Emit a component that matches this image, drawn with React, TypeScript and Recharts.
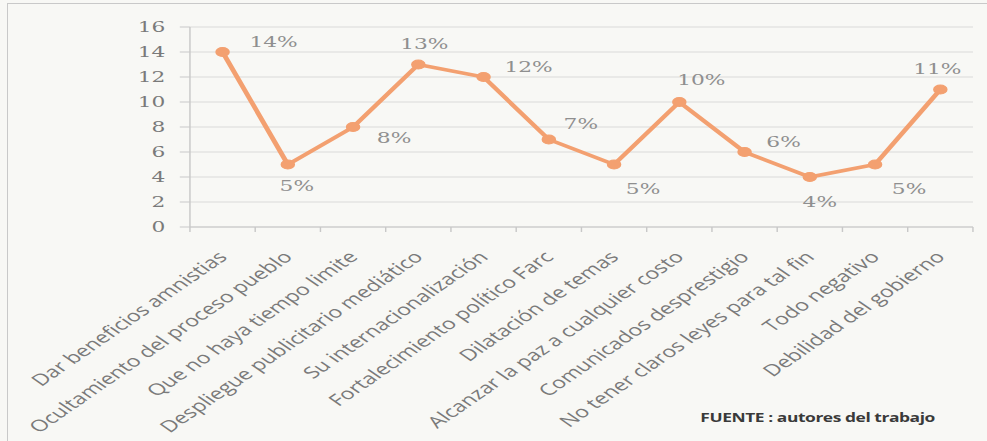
import React from 'react';
import { LineChart, Line, XAxis, YAxis, CartesianGrid, LabelList } from 'recharts';

// categories and values
const categories = [
  'Dar beneficios amnistias',
  'Ocultamiento del proceso pueblo',
  'Que no haya tiempo limite',
  'Despliegue publicitario mediático',
  'Su internacionalización',
  'Fortalecimiento político Farc',
  'Dilatación de temas',
  'Alcanzar la paz a cualquier costo',
  'Comunicados desprestigio',
  'No tener claros leyes para tal fin',
  'Todo negativo',
  'Debilidad del gobierno',
];
const values = [14, 5, 8, 13, 12, 7, 5, 10, 6, 4, 5, 11];
const yTicks = [0, 2, 4, 6, 8, 10, 12, 14, 16];

// where each percentage label sits relative to its point (page px)
const labelOffsets = [
  [51, -10], [9, 21], [41, 11], [6, -21], [45, -10], [32, -16],
  [29, 24], [22, -22], [39, -10], [10, 25], [34, 24], [-3, -21],
];

const data = categories.map((name, i) => ({ name, value: values[i] }));

// the scan is stretched sideways, so the chart is drawn narrow and scaled
const STRETCH = 1.45;
const CHART_W = 681;
const AXIS_W = 131;
const RIGHT = 10;
const HALF_BAND = (CHART_W - AXIS_W - RIGHT) / categories.length / 2;

const CategoryTick = (props: any) => {
  const { x, y, payload, index } = props;
  return (
    <g>
      <line x1={x - HALF_BAND} y1={y} x2={x - HALF_BAND} y2={y + 5} stroke="#c8c8c8" />
      {index === categories.length - 1 && (
        <line x1={x + HALF_BAND} y1={y} x2={x + HALF_BAND} y2={y + 5} stroke="#c8c8c8" />
      )}
      <text
        transform={`translate(${x + 4},${y + 31}) rotate(-45)`}
        textAnchor="end"
        fontSize={16}
        fontFamily="'Open Sans', sans-serif"
        fill="#7a7a7a"
      >
        {payload.value}
      </text>
    </g>
  );
};

const PercentLabel = (props: any) => {
  const { x, y, value, index } = props;
  const [dx, dy] = labelOffsets[index] || [0, -12];
  return (
    <text
      x={x + dx / STRETCH}
      y={y + dy}
      textAnchor="middle"
      dominantBaseline="central"
      fontSize={15}
      fontFamily="'DejaVu Serif', serif"
      fill="#8f8f8f"
    >
      {value}%
    </text>
  );
};

export default function App() {
  return (
    <div
      style={{
        position: 'absolute',
        left: 0,
        top: 0,
        width: 987,
        height: 441,
        overflow: 'hidden',
        background: '#f8f8f5',
      }}
    >
      {/* frame of the figure */}
      <div
        style={{
          position: 'absolute',
          left: 7,
          top: 3,
          width: 1000,
          height: 460,
          border: '1px solid #c9c9c9',
        }}
      />
      <div
        style={{
          position: 'absolute',
          left: 0,
          top: 0,
          width: CHART_W,
          height: 441,
          transform: `scaleX(${STRETCH})`,
          transformOrigin: '0 0',
        }}
      >
        <LineChart
          width={CHART_W}
          height={441}
          data={data}
          margin={{ top: 27, right: RIGHT, bottom: 0, left: 0 }}
        >
          <CartesianGrid vertical={false} stroke="#dadada" />
          <XAxis
            dataKey="name"
            interval={0}
            height={214}
            padding={{ left: HALF_BAND, right: HALF_BAND }}
            tickSize={0}
            tickMargin={0}
            tickLine={false}
            axisLine={{ stroke: '#c8c8c8' }}
            tick={<CategoryTick />}
          />
          <YAxis
            width={AXIS_W}
            domain={[0, 16]}
            ticks={yTicks}
            tickSize={7}
            tickMargin={10}
            axisLine={{ stroke: '#c8c8c8' }}
            tickLine={{ stroke: '#c8c8c8' }}
            tick={{ fontSize: 15, fontFamily: "'DejaVu Serif', serif", fill: '#7a7a7a' }}
          />
          <Line
            dataKey="value"
            stroke="#f3a070"
            strokeWidth={3.5}
            dot={{ r: 4.5, fill: '#f3a070', stroke: '#f3a070', strokeWidth: 1 }}
            activeDot={false}
            isAnimationActive={false}
          >
            <LabelList dataKey="value" content={<PercentLabel />} />
          </Line>
        </LineChart>
        <div
          style={{
            position: 'absolute',
            left: 483,
            top: 409,
            fontSize: 12,
            fontWeight: 'bold',
            fontFamily: "'Open Sans', sans-serif",
            color: '#3a3a3a',
            whiteSpace: 'nowrap',
            letterSpacing: -0.3,
          }}
        >
          FUENTE : autores del trabajo
        </div>
      </div>
    </div>
  );
}
